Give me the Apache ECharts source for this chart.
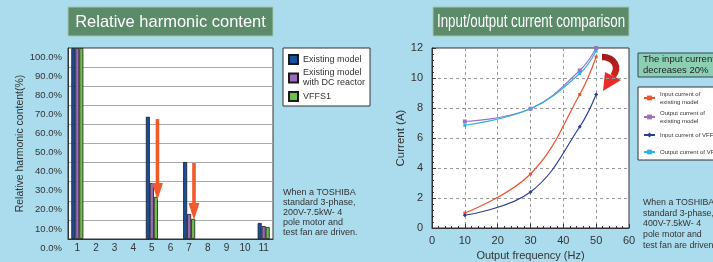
<!DOCTYPE html>
<html>
<head>
<meta charset="utf-8">
<script src="https://cdn.jsdelivr.net/npm/echarts@6/dist/echarts.min.js"></script>
<style>
html, body { margin: 0; padding: 0; background: #aadcee; }
#container { width: 713px; height: 262px; }
</style>
</head>
<body>
<div id="container"></div>
<script>
// left chart: harmonic order vs relative content (%)
var harmonicOrder = ['1', '2', '3', '4', '5', '6', '7', '8', '9', '10', '11'];
var existingModel = [100, null, null, null, 64, null, 40.3, null, null, null, 8.4];
var withDcReactor = [100, null, null, null, 29.3, null, 13.1, null, null, null, 6.8];
var vffs1 = [100, null, null, null, 22, null, 10.5, null, null, null, 6.3];
// red arrows (x in harmonic order, from / to in %)
var arrowX = [5.3, 7.26];
var arrowFrom = [62.8, 39.8];
var arrowTo = [20.4, 9.9];

// right chart: output frequency (Hz) vs current (A)
var freq = [10, 30, 45, 50];
var inputExisting = [1.0, 3.6, 8.9, 11.4];
var outputExisting = [7.1, 7.95, 10.5, 12.0];
var inputVffs = [0.85, 2.4, 6.75, 8.9];
var outputVffs = [6.85, 7.95, 10.3, 11.8];

var sans = "'Liberation Sans', Arial, sans-serif";

var myChart = echarts.init(document.getElementById('container'));

function pairs(xs, ys) {
	var out = [];
	for (var i = 0; i < xs.length; i++) out.push([xs[i], ys[i]]);
	return out;
}

var arrowData = [];
for (var i = 0; i < arrowX.length; i++) arrowData.push([arrowX[i], arrowFrom[i], arrowTo[i]]);

function renderArrow(params, api) {
	var p0 = api.coord([api.value(0), api.value(1)]);
	var p1 = api.coord([api.value(0), api.value(2)]);
	var headLen = 17, headW = 11, shaftW = 3.6;
	return {
		type: 'group',
		children: [
			{type: 'rect', shape: {x: p0[0] - shaftW / 2, y: p0[1], width: shaftW, height: p1[1] - headLen - p0[1] + 1}, style: {fill: '#f15a2b'}},
			{type: 'polygon', shape: {points: [[p1[0] - headW / 2, p1[1] - headLen], [p1[0] + headW / 2, p1[1] - headLen], [p1[0], p1[1]]]}, style: {fill: '#f15a2b'}}
		]
	};
}

var lineColors = ['#f0522e', '#a070c0', '#2d3f92', '#2ab5e8'];

myChart.setOption({
	animation: false,
	backgroundColor: '#aadcee',
	textStyle: {fontFamily: sans},
	grid: [
		{left: 68, top: 48, width: 205, height: 191, show: true, backgroundColor: '#fff', borderColor: '#333', borderWidth: 1, outerBoundsMode: 'none'},
		{left: 432, top: 48, width: 197, height: 180, show: true, backgroundColor: '#fff', borderColor: '#333', borderWidth: 1, outerBoundsMode: 'none'}
	],
	legend: [
		{
			left: 283, top: 48, orient: 'vertical',
			padding: [6, 5, 4, 5], itemGap: 3, itemWidth: 9, itemHeight: 9,
			backgroundColor: '#fff', borderColor: '#333', borderWidth: 1, borderRadius: 0,
			icon: 'rect',
			textStyle: {fontSize: 9, lineHeight: 10, color: '#333'},
			data: ['Existing model', 'Existing model\nwith DC reactor', 'VFFS1']
		},
		{
			left: 638, top: 87, orient: 'vertical',
			padding: [3, 5, 1, 5], itemGap: 3, itemWidth: 11, itemHeight: 6,
			backgroundColor: '#fff', borderColor: '#333', borderWidth: 1, borderRadius: 0,
			textStyle: {fontSize: 6, lineHeight: 8, color: '#333'},
			data: [
				'Input current of\nexisting model',
				'Output current of\nexisting model',
				{name: 'Input current of VFFS1', textStyle: {lineHeight: 14}},
				{name: 'Output current of VFFS1', textStyle: {lineHeight: 14}}
			]
		}
	],
	xAxis: [
		{
			type: 'category', gridIndex: 0, data: harmonicOrder,
			axisLine: {lineStyle: {color: '#333'}},
			axisTick: {inside: true, length: 5, lineStyle: {color: '#666'}},
			axisLabel: {margin: 4, fontSize: 10, color: '#333', interval: 0},
			splitLine: {show: false}
		},
		{
			type: 'value', gridIndex: 1, min: 0, max: 60, interval: 10,
			axisLine: {lineStyle: {color: '#333'}},
			axisTick: {inside: true, length: 4, lineStyle: {color: '#333'}},
			minorTick: {show: true, splitNumber: 5, length: 2, lineStyle: {color: '#333'}},
			axisLabel: {margin: 7, fontSize: 11, color: '#333'},
			splitLine: {show: true, showMinLine: false, showMaxLine: false, lineStyle: {type: [3, 3], color: '#999'}},
			name: 'Output frequency (Hz)', nameLocation: 'middle', nameGap: 22,
			nameTextStyle: {fontSize: 11, color: '#333'}
		},
		{type: 'value', gridIndex: 0, min: 0.5, max: 11.5, show: false, splitLine: {show: false}}
	],
	yAxis: [
		{
			type: 'value', gridIndex: 0, min: 0, max: 100, interval: 10,
			axisLine: {show: true, lineStyle: {color: '#333'}},
			axisTick: {show: false},
			axisLabel: {
				margin: 6, fontSize: 9.5, color: '#333', verticalAlign: 'top', lineHeight: 18,
				showMinLabel: true, showMaxLabel: true, hideOverlap: false,
				formatter: function (v) { return v.toFixed(1) + '%'; }
			},
			splitLine: {show: true, showMaxLine: false, lineStyle: {color: '#aaa', width: 1.2}},
			name: 'Relative harmonic content(%)', nameLocation: 'middle', nameGap: 41,
			nameTextStyle: {fontSize: 10.5, color: '#333'}
		},
		{
			type: 'value', gridIndex: 1, min: 0, max: 12, interval: 2,
			axisLine: {show: true, lineStyle: {color: '#333'}},
			axisTick: {show: true, inside: true, length: 4, lineStyle: {color: '#333'}},
			minorTick: {show: true, splitNumber: 5, length: 2, lineStyle: {color: '#333'}},
			axisLabel: {margin: 9, fontSize: 11, color: '#333'},
			splitLine: {show: true, showMinLine: false, showMaxLine: false, lineStyle: {type: [3, 3], color: '#999'}},
			name: 'Current (A)', nameLocation: 'middle', nameGap: 23,
			nameTextStyle: {fontSize: 11.5, color: '#333'}
		}
	],
	series: [
		{name: 'Existing model', type: 'bar', xAxisIndex: 0, yAxisIndex: 0, data: existingModel, barWidth: 4, barGap: '0%',
			itemStyle: {color: '#174f9e', borderColor: '#1a1a1a', borderWidth: 0.8}},
		{name: 'Existing model\nwith DC reactor', type: 'bar', xAxisIndex: 0, yAxisIndex: 0, data: withDcReactor, barWidth: 4, barGap: '0%',
			itemStyle: {color: '#9a6cb6', borderColor: '#1a1a1a', borderWidth: 0.8}},
		{name: 'VFFS1', type: 'bar', xAxisIndex: 0, yAxisIndex: 0, data: vffs1, barWidth: 4, barGap: '0%',
			itemStyle: {color: '#6dbf4c', borderColor: '#1a1a1a', borderWidth: 0.8}},
		{type: 'custom', xAxisIndex: 2, yAxisIndex: 0, data: arrowData, renderItem: renderArrow, silent: true, z: 5},
		{name: 'Input current of\nexisting model', type: 'line', xAxisIndex: 1, yAxisIndex: 1, data: pairs(freq, inputExisting),
			smooth: 0.4, symbol: 'rect', symbolSize: 3, lineStyle: {color: lineColors[0], width: 1.2}, itemStyle: {color: lineColors[0]}},
		{name: 'Output current of\nexisting model', type: 'line', xAxisIndex: 1, yAxisIndex: 1, data: pairs(freq, outputExisting),
			smooth: 0.4, symbol: 'rect', symbolSize: 4, lineStyle: {color: lineColors[1], width: 1.2}, itemStyle: {color: lineColors[1]}},
		{name: 'Input current of VFFS1', type: 'line', xAxisIndex: 1, yAxisIndex: 1, data: pairs(freq, inputVffs),
			smooth: 0.4, symbol: 'diamond', symbolSize: 4, lineStyle: {color: lineColors[2], width: 1.2}, itemStyle: {color: lineColors[2]}},
		{name: 'Output current of VFFS1', type: 'line', xAxisIndex: 1, yAxisIndex: 1, data: pairs(freq, outputVffs),
			smooth: 0.4, symbol: 'rect', symbolSize: 3, lineStyle: {color: lineColors[3], width: 1.2}, itemStyle: {color: lineColors[3]}}
	],
	graphic: [
		// title boxes
		{type: 'rect', shape: {x: 68, y: 7, width: 205, height: 29}, style: {fill: '#5b8b69', stroke: '#a5c7ae', lineWidth: 1}},
		{type: 'text', x: 170.5, y: 22, scaleX: 0.97, style: {text: 'Relative harmonic content', fill: '#fff', font: '17px ' + sans, align: 'center', verticalAlign: 'middle'}},
		{type: 'rect', shape: {x: 433, y: 7, width: 196, height: 29}, style: {fill: '#5b8b69', stroke: '#a5c7ae', lineWidth: 1}},
		{type: 'text', x: 531, y: 22, scaleX: 0.74, style: {text: 'Input/output current comparison', fill: '#fff', font: '18px ' + sans, align: 'center', verticalAlign: 'middle'}},
		// "decreases 20%" box
		{type: 'rect', shape: {x: 638, y: 53, width: 90, height: 24}, style: {fill: '#8dcfb4', stroke: '#2b4a5a', lineWidth: 1}},
		{type: 'text', x: 643, y: 54, style: {text: 'The input current\ndecreases 20%', fill: '#222', font: '9.5px ' + sans, lineHeight: 11, verticalAlign: 'top'}},
		// curved red arrow
		{type: 'bezierCurve', shape: {x1: 602, y1: 57, cpx1: 614, cpy1: 57, cpx2: 620, cpy2: 67, x2: 613, y2: 76},
			style: {fill: null, lineWidth: 6.5, stroke: {type: 'linear', x: 0, y: 0, x2: 0, y2: 1, colorStops: [{offset: 0, color: '#9c1c1c'}, {offset: 1, color: '#d82424'}]}}},
		{type: 'polygon', shape: {points: [[605, 72], [621, 80], [603, 91]]}, style: {fill: '#ec2a2a'}},
		// notes
		{type: 'text', x: 283, y: 188, style: {text: 'When a TOSHIBA\nstandard 3-phase,\n200V-7.5kW- 4\npole motor and\ntest fan are driven.', fill: '#333', font: '9px ' + sans, lineHeight: 10, verticalAlign: 'top'}},
		{type: 'text', x: 643, y: 197, style: {text: 'When a TOSHIBA\nstandard 3-phase,\n400V-7.5kW- 4\npole motor and\ntest fan are driven.', fill: '#333', font: '8.8px ' + sans, lineHeight: 10.8, verticalAlign: 'top'}}
	]
});
</script>
</body>
</html>
